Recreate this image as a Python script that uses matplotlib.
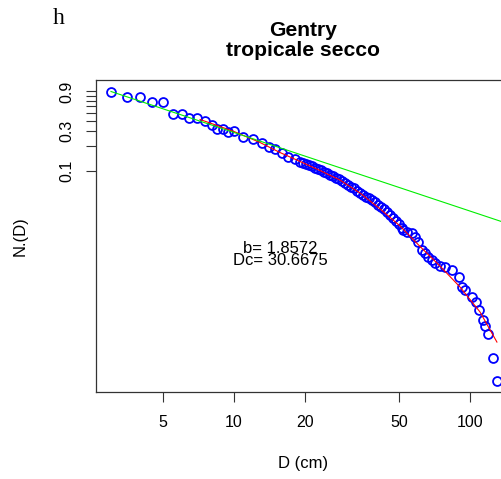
import matplotlib
matplotlib.use("Agg")
import matplotlib.pyplot as plt
from matplotlib.ticker import NullLocator, FixedLocator, FixedFormatter

plt.rcParams["font.family"] = ["Liberation Sans", "DejaVu Sans"]

# --- data ---
diam = [3.01, 3.51, 4.00, 4.51, 5.01, 5.53, 6.00, 6.47, 6.99, 7.54,
        8.04, 8.45, 9.01, 9.46, 10.0, 10.95, 12.07, 13.1, 14.06, 14.92,
        15.93, 16.98, 18.13, 19.07,
        19.61, 20.19, 20.79, 21.41, 22.04, 22.70, 23.37, 24.06, 24.78, 25.51,
        26.27, 27.05, 27.85, 28.68, 29.53, 30.41, 31.31, 32.24, 33.20, 34.19,
        35.21, 36.25, 37.33, 38.44, 39.59, 40.76, 41.98, 43.22, 44.51, 45.81,
        47.18, 48.58, 50.03, 51.52,
        52.2, 54.09, 56.6, 58.47, 60.4, 62.4, 64.47, 66.5, 69.02, 71.1,
        74.64, 78.3, 83.6, 89.8, 92.2, 95.2, 101.6, 106.0, 109.4, 113.7,
        115.6, 119.6, 125.6, 129.8]
n_cum = [0.895, 0.78, 0.78, 0.667, 0.667, 0.479, 0.479, 0.428, 0.428, 0.397,
         0.356, 0.316, 0.318, 0.295, 0.301, 0.257, 0.239, 0.214, 0.191, 0.181,
         0.162, 0.148, 0.138, 0.128,
         0.124, 0.1197, 0.1161, 0.1124, 0.1084, 0.1048, 0.1014, 0.0975, 0.0938, 0.0899,
         0.0863, 0.0828, 0.0790, 0.0752, 0.0715, 0.0678, 0.0645, 0.0614, 0.0577, 0.0543,
         0.0509, 0.0489, 0.0469, 0.0441, 0.0416, 0.0391, 0.0367, 0.0346, 0.0320, 0.0292,
         0.0269, 0.0249, 0.0228, 0.0204,
         0.0193, 0.0185, 0.0176, 0.0159, 0.0140, 0.0111, 0.0102, 0.0092, 0.0084, 0.00766,
         0.0072, 0.00697, 0.00637, 0.0052, 0.00394, 0.00366, 0.00303, 0.00264, 0.0021, 0.00159,
         0.00135, 0.00108, 0.000559, 0.000292]

# tapered fit (red)
fit_d = [7.18, 10.0, 12.88, 15.66, 19.05, 23.13, 28.1, 34.2, 41.6, 50.5,
         61.4, 74.6, 90.7, 110.2, 130.0]
fit_n = [0.414, 0.2966, 0.2188, 0.1656, 0.1292, 0.1006, 0.0772, 0.0538, 0.0346, 0.0216,
         0.01222, 0.00711, 0.00397, 0.00199, 0.000863]

# pure power law (green)
pow_d = [3.01, 136.6]
pow_n = [0.90, 0.0243]

B_VAL = "1.8572"
DC_VAL = "30.6675"

xticks = [5, 10, 20, 50, 100]
xtick_labels = ["5", "10", "20", "50", "100"]
yticks = [0.1, 0.2, 0.3, 0.4, 0.5, 0.6, 0.7, 0.8, 0.9]
ytick_labels = ["0.1", "", "0.3", "", "", "", "", "", "0.9"]

W, H = 502, 479
fig = plt.figure(figsize=(W / 100, H / 100), dpi=100)
ax = fig.add_axes([96 / W, 87 / H, 414 / W, 312 / H])

ax.plot(diam, n_cum, linestyle="none", marker="o", markersize=6.4,
        markerfacecolor="none", markeredgecolor="#0000ff", markeredgewidth=1.3)
ax.plot(fit_d, fit_n, color="#ff0000", linewidth=0.8)
ax.plot(pow_d, pow_n, color="#00ee00", linewidth=0.8)

ax.set_xscale("log")
ax.set_yscale("log")
ax.set_xlim(2.60, 147.7)
ax.set_ylim(2.16e-4, 1.238)

ax.xaxis.set_major_locator(FixedLocator(xticks))
ax.xaxis.set_major_formatter(FixedFormatter(xtick_labels))
ax.xaxis.set_minor_locator(NullLocator())
ax.yaxis.set_major_locator(FixedLocator(yticks))
ax.yaxis.set_major_formatter(FixedFormatter(ytick_labels))
ax.yaxis.set_minor_locator(NullLocator())

ax.tick_params(direction="out", length=7.5, width=0.8, labelsize=11.5, color="#333333")
ax.tick_params(axis="x", pad=9)
ax.tick_params(axis="y", pad=8)
for lab in ax.get_yticklabels():
    lab.set_rotation(90)
    lab.set_va("center")

for s in ax.spines.values():
    s.set_linewidth(0.9)
    s.set_color("#333333")

ax.set_xlabel("D (cm)", fontsize=12)
ax.set_ylabel("N.(D)", fontsize=12)
ax.xaxis.set_label_coords(0.5, -0.205)
ax.yaxis.set_label_coords(-0.164, 0.5)

# fit parameters, tightly stacked as in the original
ax.text(15.66, 0.00975, f"b= {B_VAL}\nDc= {DC_VAL}", ha="center", va="center",
        multialignment="center", linespacing=0.78, fontsize=12)

fig.text(303 / W, 1 - 30 / H, "Gentry", ha="center", va="center",
         fontsize=15.2, fontweight="bold")
fig.text(303 / W, 1 - 51 / H, "tropicale secco", ha="center", va="center",
         fontsize=15.2, fontweight="bold")
fig.text(59 / W, 1 - 19 / H, "h", ha="center", va="center",
         fontsize=17, family="Liberation Serif")

fig.savefig("out.png", dpi=100)
